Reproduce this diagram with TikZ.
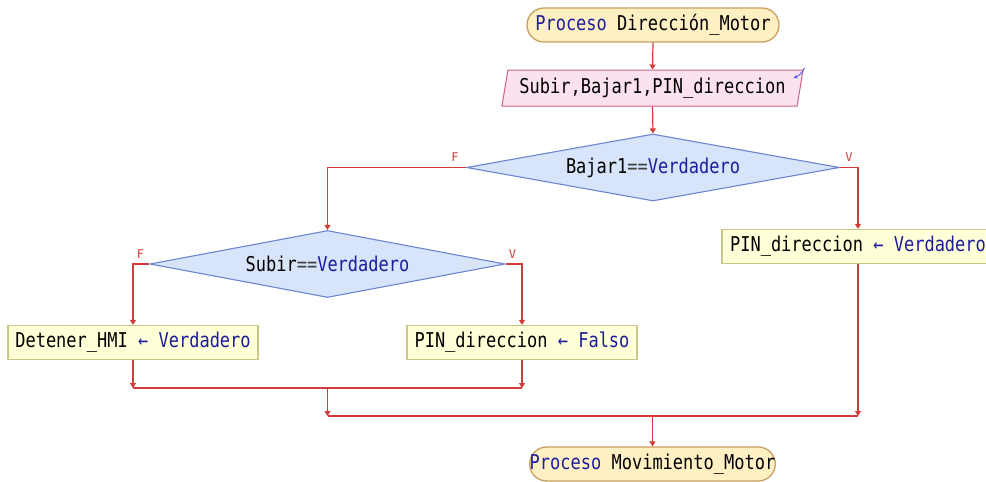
\documentclass[tikz,border=0pt]{standalone}
\usepackage{fontspec}
\setmonofont{DejaVu Sans Mono}
\usepackage{graphicx}
\usetikzlibrary{arrows.meta,shapes.geometric}
\definecolor{flowred}{HTML}{D43C3C}
\definecolor{kwblue}{HTML}{1C1C9C}
\definecolor{termfill}{HTML}{FFF0C4}
\definecolor{termline}{HTML}{C8A060}
\definecolor{iofill}{HTML}{FCE2EE}
\definecolor{ioline}{HTML}{C8668A}
\definecolor{decfill}{HTML}{D8E4FA}
\definecolor{decline}{HTML}{6A86D0}
\definecolor{boxfill}{HTML}{FFFFD8}
\definecolor{boxline}{HTML}{C8C88A}
\definecolor{opgray}{HTML}{404040}
\newcommand{\kw}[1]{\textcolor{kwblue}{#1}}
\newcommand{\tx}[1]{\scalebox{1}[1.2]{\ttfamily\fontsize{17}{20}\selectfont #1}}
\newcommand{\asg}{\textcolor{kwblue}{←}}
\tikzset{
  term/.style={draw=termline, fill=termfill, line width=1.3pt, rounded corners=17pt, inner sep=0pt},
  iobox/.style={trapezium, trapezium left angle=77, trapezium right angle=103, trapezium stretches, draw=ioline, fill=iofill, line width=1pt, inner xsep=4pt, inner ysep=2pt},
  dec/.style={diamond, draw=decline, fill=decfill, line width=1.1pt, inner sep=1pt},
  asgbox/.style={draw=boxline, fill=boxfill, line width=1.2pt, inner sep=0pt, minimum height=34pt},
  txt/.style={inner sep=0pt},
  flow/.style={draw=flowred, line width=1.2pt, -{Triangle[length=5pt,width=6pt]}},
  plain/.style={draw=flowred, line width=1.2pt},
  tf/.style={text=flowred, inner sep=0pt, font=\ttfamily\fontsize{12}{14}\selectfont}
}
\begin{document}
\begin{tikzpicture}[x=1pt,y=-1pt]
\useasboundingbox (0,0) rectangle (986,482);
\clip (0,0) rectangle (986,482);
\fill[white] (0,0) rectangle (986,482);

\node[term, minimum width=252pt, minimum height=34pt] (start) at (653,25) {\tx{\kw{Proceso} Dirección\_Motor}};
\node[iobox, minimum width=302pt, minimum height=36pt] (in) at (652.5,88) {\tx{Subir,Bajar1,PIN\_direccion}};
\coordinate (ic1) at ([xshift=152pt,yshift=20pt]in.center);
\coordinate (ic2) at ([xshift=141pt,yshift=10pt]in.center);
\draw[draw=decline!70!blue, line width=0.9pt, -{Stealth[length=4pt,width=4pt]}] (ic1) to[bend left=20] (ic2);

\node[dec, minimum width=373pt, minimum height=67pt] (d1) at (653,167.5) {};
\node[txt] (d1t) at (d1.center) {\tx{Bajar1\textcolor{opgray}{==}\kw{Verdadero}}};

\node[dec, minimum width=355pt, minimum height=67pt] (d2) at (327.5,264) {};
\node[txt] (d2t) at (d2.center) {\tx{Subir\textcolor{opgray}{==}\kw{Verdadero}}};

\node[asgbox, minimum width=272pt] (b3) at (858,246.5) {\tx{PIN\_direccion \asg{} \kw{Verdadero}}};
\node[asgbox, minimum width=250pt] (b1) at (133,342.5) {\tx{Detener\_HMI \asg{} \kw{Verdadero}}};
\node[asgbox, minimum width=230pt] (b2) at (522,342.5) {\tx{PIN\_direccion \asg{} \kw{Falso}}};

\node[term, minimum width=245pt, minimum height=34pt] (stop) at (652.5,464) {\tx{\kw{Proceso} Movimiento\_Motor}};

% connectors
\draw[flow] (start.south) -- (in.north);
\draw[flow] (in.south) -- (d1.north);
\draw[flow] (d1.west) -| (d2.north);
\draw[flow] (d1.east) -| (b3.north);
\draw[flow] (d2.west) -| (b1.north);
\draw[flow] (d2.east) -| (b2.north);

\coordinate (m1) at (327.5,388);
\coordinate (m2) at (327.5,416);
\draw[flow] (b1.south) -- (b1.south |- m1);
\draw[flow] (b2.south) -- (b2.south |- m1);
\draw[plain] (b1.south |- m1) -- (b2.south |- m1);
\draw[flow] (m1) -- (m2);
\draw[plain] (m2) -- (b3.south |- m2);
\draw[flow] (b3.south) -- (b3.south |- m2);
\draw[flow] (stop.north |- m2) -- (stop.north);

% branch labels
\node[tf] (f1) at ([xshift=-11pt,yshift=10pt]d1.west) {F};
\node[tf] (v1) at ([xshift=9pt,yshift=10pt]d1.east) {V};
\node[tf] (f2) at ([xshift=-9pt,yshift=10pt]d2.west) {F};
\node[tf] (v2) at ([xshift=7pt,yshift=10pt]d2.east) {V};
\end{tikzpicture}
\end{document}
